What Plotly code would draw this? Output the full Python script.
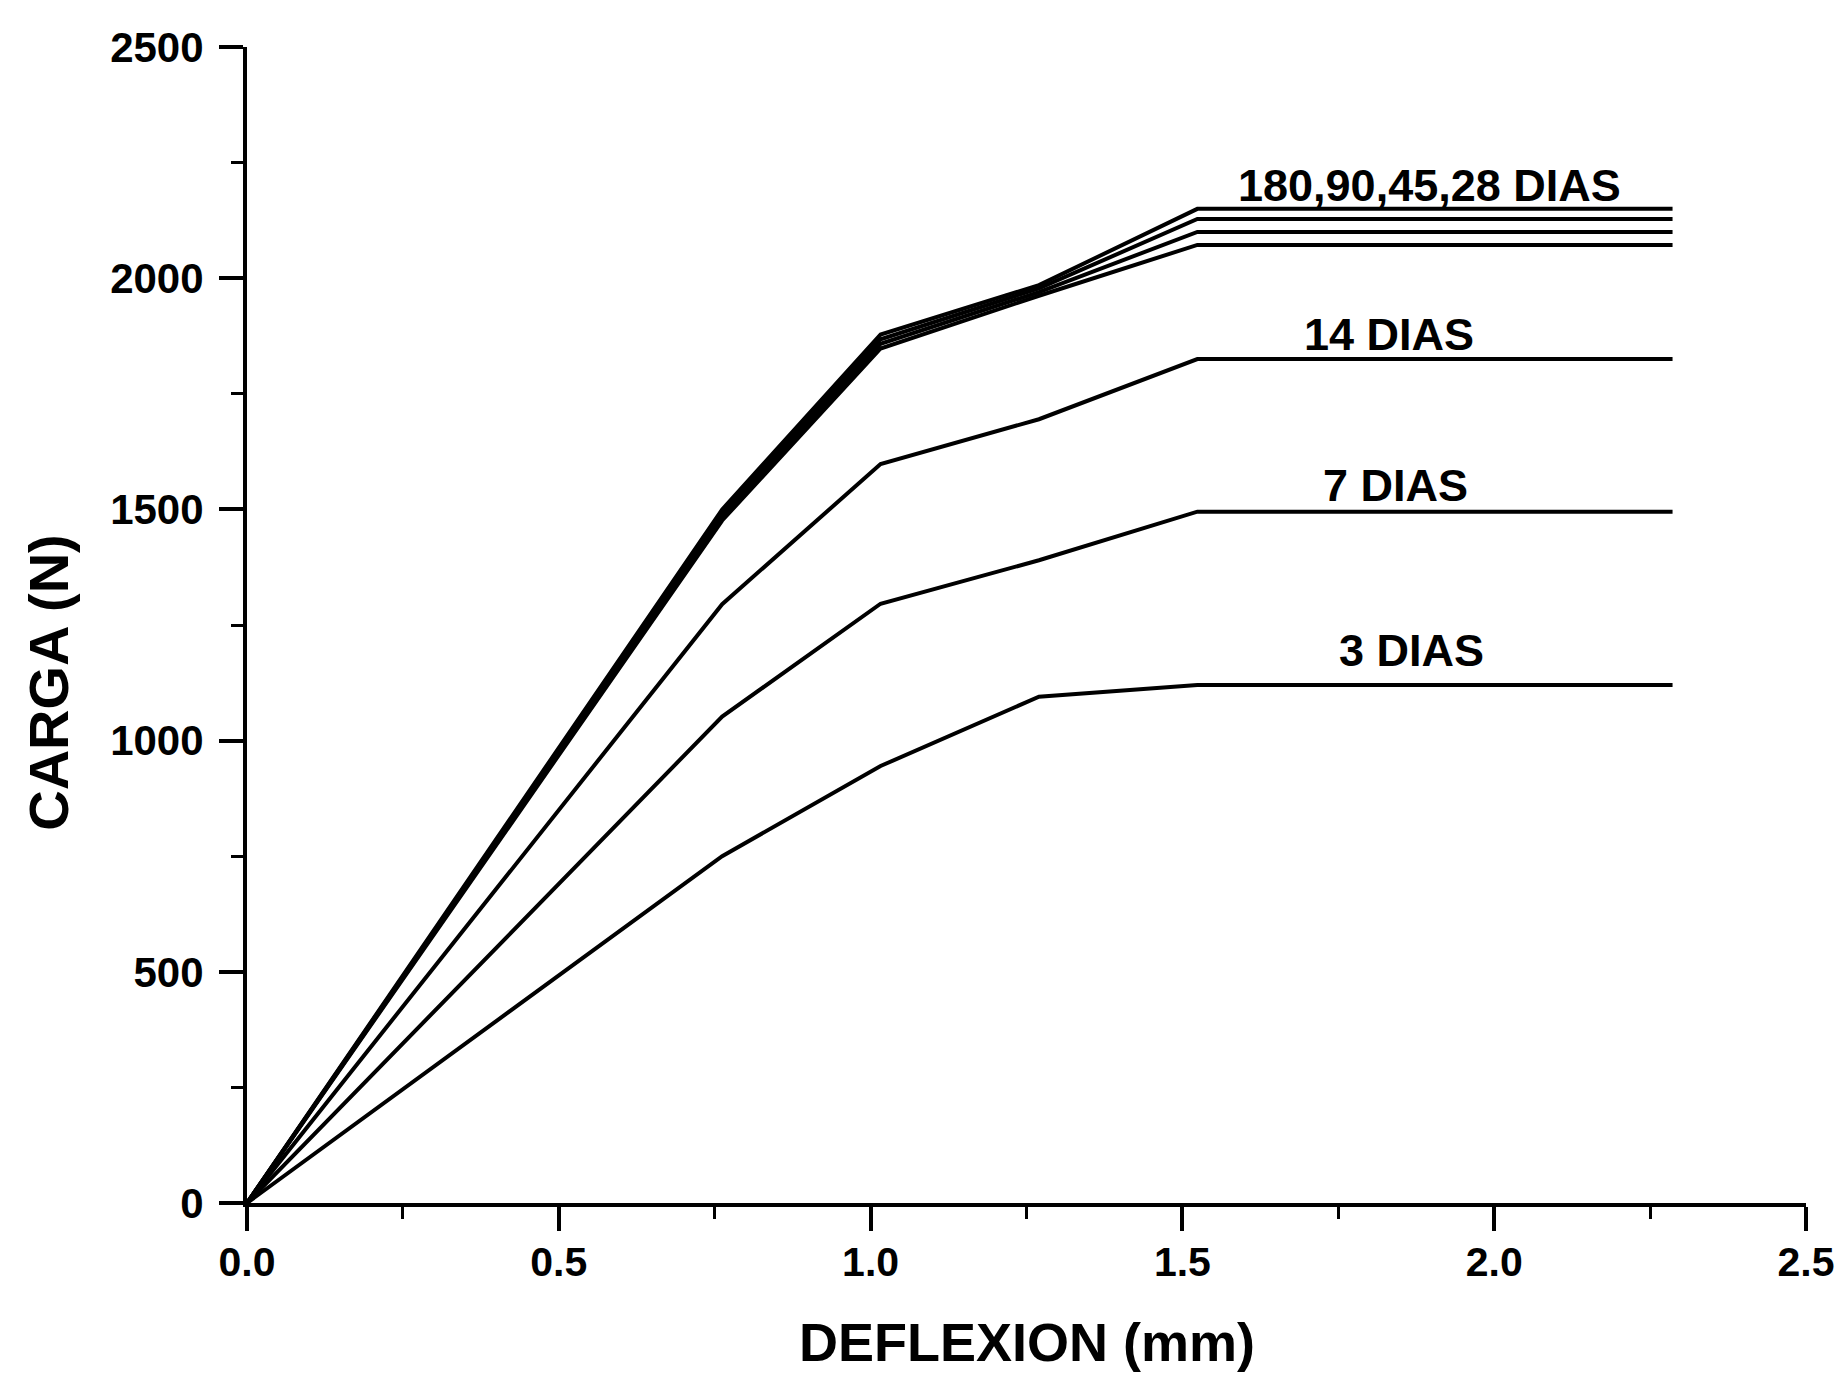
import plotly.graph_objects as go

# deflection (mm)
deflexion = [0.0, 0.762, 1.016, 1.27, 1.524, 2.286]

# load (N)
carga_180 = [0, 1500, 1878, 1985, 2150, 2150]
carga_90 = [0, 1492, 1868, 1978, 2128, 2128]
carga_45 = [0, 1484, 1858, 1970, 2100, 2100]
carga_28 = [0, 1476, 1848, 1962, 2072, 2072]
carga_14 = [0, 1295, 1598, 1695, 1825, 1825]
carga_7 = [0, 1052, 1296, 1390, 1495, 1495]
carga_3 = [0, 750, 945, 1095, 1120, 1120]

series = [carga_180, carga_90, carga_45, carga_28, carga_14, carga_7, carga_3]

labels = ["180,90,45,28 DIAS", "14 DIAS", "7 DIAS", "3 DIAS"]
label_x = [1.897, 1.832, 1.842, 1.867]
label_y = [2200, 1878, 1551, 1194]

x_ticks = [0, 0.5, 1.0, 1.5, 2.0, 2.5]
x_minor = [0.25, 0.75, 1.25, 1.75, 2.25]
y_ticks = [0, 500, 1000, 1500, 2000, 2500]
y_minor = [250, 750, 1250, 1750, 2250]

FONT = "Liberation Sans"

fig = go.Figure()
for s in series:
    fig.add_trace(go.Scatter(x=deflexion, y=s, mode="lines",
                             line=dict(color="black", width=4),
                             showlegend=False, hoverinfo="skip"))

for t, x, y in zip(labels, label_x, label_y):
    fig.add_annotation(x=x, y=y, text="<b>%s</b>" % t, showarrow=False,
                       font=dict(family=FONT, size=45, color="black"),
                       xanchor="center", yanchor="middle")

# axis titles
fig.add_annotation(xref="paper", yref="paper", x=0.5, y=-0.148,
                   text="<b>DEFLEXION (mm)</b>", showarrow=False,
                   font=dict(family=FONT, size=54, color="black"),
                   xanchor="center", yanchor="bottom")
fig.add_annotation(xref="paper", yref="paper", x=-0.127, y=0.45,
                   text="<b>CARGA (N)</b>", showarrow=False, textangle=-90,
                   font=dict(family=FONT, size=56, color="black"),
                   xanchor="center", yanchor="middle")

fig.update_layout(
    width=1847, height=1376,
    margin=dict(l=247, r=36, t=47, b=173),
    paper_bgcolor="white", plot_bgcolor="white",
    font=dict(family=FONT, color="black"),
)

fig.update_xaxes(
    range=[0, 2.5], tickvals=x_ticks,
    ticktext=["<b>%.1f</b>" % v for v in x_ticks],
    showline=True, linecolor="black", linewidth=4,
    ticks="outside", ticklen=24, tickwidth=4, tickcolor="black",
    ticklabelstandoff=-4,
    minor=dict(tickvals=x_minor, ticks="outside", ticklen=12, tickwidth=3, tickcolor="black"),
    showgrid=False, zeroline=False,
    tickfont=dict(family=FONT, size=41, color="black"),
)
fig.update_yaxes(
    range=[0, 2500], tickvals=y_ticks,
    ticktext=["<b>%d</b>" % v for v in y_ticks],
    showline=True, linecolor="black", linewidth=4,
    ticks="outside", ticklen=24, tickwidth=4, tickcolor="black",
    ticklabelstandoff=7,
    minor=dict(tickvals=y_minor, ticks="outside", ticklen=12, tickwidth=3, tickcolor="black"),
    showgrid=False, zeroline=False,
    tickfont=dict(family=FONT, size=42, color="black"),
)

fig.write_html(
    "out.html",
    config={"displayModeBar": False},
    post_script="document.body.style.margin='0';document.body.style.overflow='hidden';",
)
